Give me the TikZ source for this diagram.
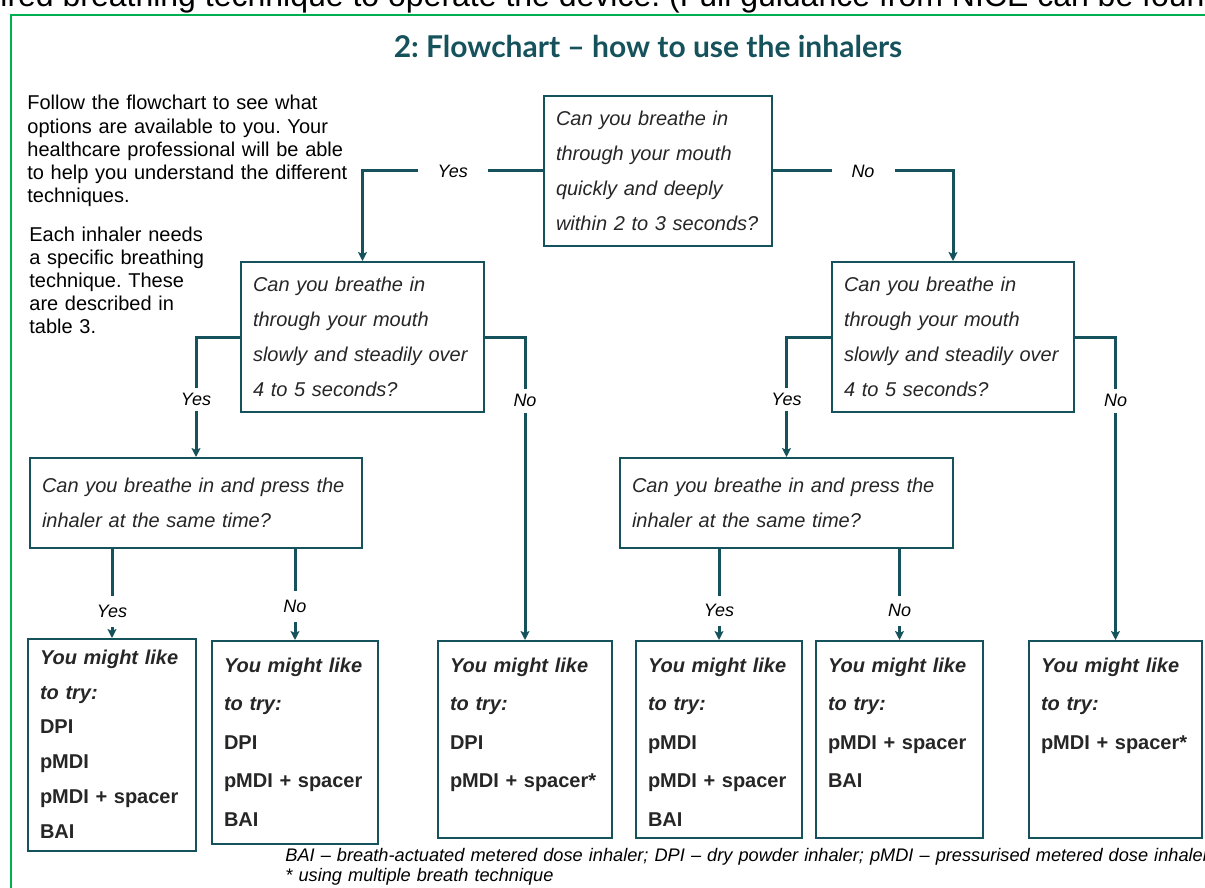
\documentclass[tikz,border=0pt]{standalone}
\usepackage{fontspec}
\setmainfont{Liberation Sans}
\newfontfamily\latofont{Lato}
\usetikzlibrary{arrows.meta}
\definecolor{flowteal}{RGB}{22,82,92}
\definecolor{framegreen}{RGB}{0,176,80}
\definecolor{boxtext}{RGB}{38,38,38}
\frenchspacing

\begin{document}
\begin{tikzpicture}[x=0.5pt,y=-0.5pt,
  qbox/.style={draw=flowteal,line width=1pt,inner xsep=6pt,align=left,text=boxtext,font=\itshape\fontsize{10}{17.5}\selectfont},
  res/.style={draw=flowteal,line width=1pt,anchor=north,inner xsep=6pt,inner ysep=8.4pt,text depth=74.5pt,align=left,text=boxtext,font=\bfseries\fontsize{10}{19.25}\selectfont},
  conn/.style={flowteal,line width=1.5pt,-{Stealth[length=4.5pt,width=4.5pt,inset=1pt]}},
  yn/.style={fill=white,text=black,inner xsep=10pt,inner ysep=2.8pt,font=\itshape\fontsize{9}{11}\selectfont},
  note/.style={inner sep=0pt,align=left,anchor=base west,font=\fontsize{10}{11.6}\selectfont}]

\path[use as bounding box,clip] (0,0) rectangle (1205,888);
\node[anchor=base west,inner sep=0pt,font=\fontsize{16}{18}\selectfont] (cut) at (0,7) {ired breathing technique to operate the device. (Full guidance from NICE can be found};
\draw[framegreen,line width=1pt] (11,900) -- (11,15) -- (1220,15);

\node[anchor=base,inner sep=0pt,text=flowteal,font=\latofont\bfseries\fontsize{15}{17}\selectfont] (title) at (648,58) {2: Flowchart – how to use the inhalers};

\node[note,text width=200pt] (intro) at (27,110) {Follow the flowchart to see what\\options are available to you. Your\\healthcare professional will be able\\to help you understand the different\\techniques.};
\node[note,text width=120pt,font=\fontsize{10}{11.4}\selectfont] (each) at (29,242) {Each inhaler needs\\a specific breathing\\technique. These\\are described in\\table 3.};

\node[qbox,text width=102pt,minimum height=75pt] (q1) at (658,171) {Can you breathe in\\through your mouth\\quickly and deeply\\within 2 to 3 seconds?};
\node[qbox,text width=109.5pt,minimum height=75pt] (q2l) at (362.5,337) {Can you breathe in\\through your mouth\\slowly and steadily over\\4 to 5 seconds?};
\node[qbox,text width=109pt,minimum height=75pt] (q2r) at (953,337) {Can you breathe in\\through your mouth\\slowly and steadily over\\4 to 5 seconds?};
\node[qbox,text width=154pt,minimum height=45pt] (q3l) at (196,503) {Can you breathe in and press the\\inhaler at the same time?};
\node[qbox,text width=154.5pt,minimum height=45pt] (q3r) at (786.5,503) {Can you breathe in and press the\\inhaler at the same time?};

\node[res,text width=72pt,inner ysep=5.4pt,text depth=88pt,font=\bfseries\fontsize{10}{17.4}\selectfont] (r1) at (112,638) {\textit{You might like}\\\textit{to try:}\\DPI\\pMDI\\pMDI + spacer\\BAI};
\node[res,text width=71pt,text depth=77.5pt] (r2) at (295,640) {\textit{You might like}\\\textit{to try:}\\DPI\\pMDI + spacer\\BAI};
\node[res,text width=75pt] (r3) at (525,640) {\textit{You might like}\\\textit{to try:}\\DPI\\pMDI + spacer*};
\node[res,text width=71pt] (r4) at (719,640) {\textit{You might like}\\\textit{to try:}\\pMDI\\pMDI + spacer\\BAI};
\node[res,text width=71.5pt] (r5) at (899.5,640) {\textit{You might like}\\\textit{to try:}\\pMDI + spacer\\BAI};
\node[res,text width=74.5pt] (r6) at (1115.5,640) {\textit{You might like}\\\textit{to try:}\\pMDI + spacer*};

\draw[conn] (q1.west) -- node[yn] (y1) {Yes} (q1.west -| q2l.north) -- (q2l.north);
\draw[conn] (q1.east) -- node[yn] (n1) {No} (q1.east -| q2r.north) -- (q2r.north);
\draw[conn] (q2l.west) -- (q2l.west -| q3l.north) -- node[yn,pos=0.52] (y2) {Yes} (q3l.north);
\draw[conn] (q2l.east) -- (q2l.east -| r3.north) -- node[yn,pos=0.21] (n2) {No} (r3.north);
\draw[conn] (q2r.west) -- (q2r.west -| q3r.north) -- node[yn,pos=0.52] (y3) {Yes} (q3r.north);
\draw[conn] (q2r.east) -- (q2r.east -| r6.north) -- node[yn,pos=0.21] (n3) {No} (r6.north);
\draw[conn] (q3l.south -| r1.north) -- node[yn,inner ysep=4.5pt,pos=0.7] (y4) {Yes} (r1.north);
\draw[conn] (q3l.south -| r2.north) -- node[yn,inner ysep=4.5pt,pos=0.63] (n4) {No} (r2.north);
\draw[conn] (q3r.south -| r4.north) -- node[yn,inner ysep=4.5pt,pos=0.68] (y5) {Yes} (r4.north);
\draw[conn] (q3r.south -| r5.north) -- node[yn,inner ysep=4.5pt,pos=0.68] (n5) {No} (r5.north);

\node[anchor=base west,inner sep=0pt,align=left,text width=600pt,font=\itshape\fontsize{9.1}{10}\selectfont] (foot) at (285,861) {BAI – breath-actuated metered dose inhaler; DPI – dry powder inhaler; pMDI – pressurised metered dose inhaler\\{*} using multiple breath technique};
\end{tikzpicture}
\end{document}
